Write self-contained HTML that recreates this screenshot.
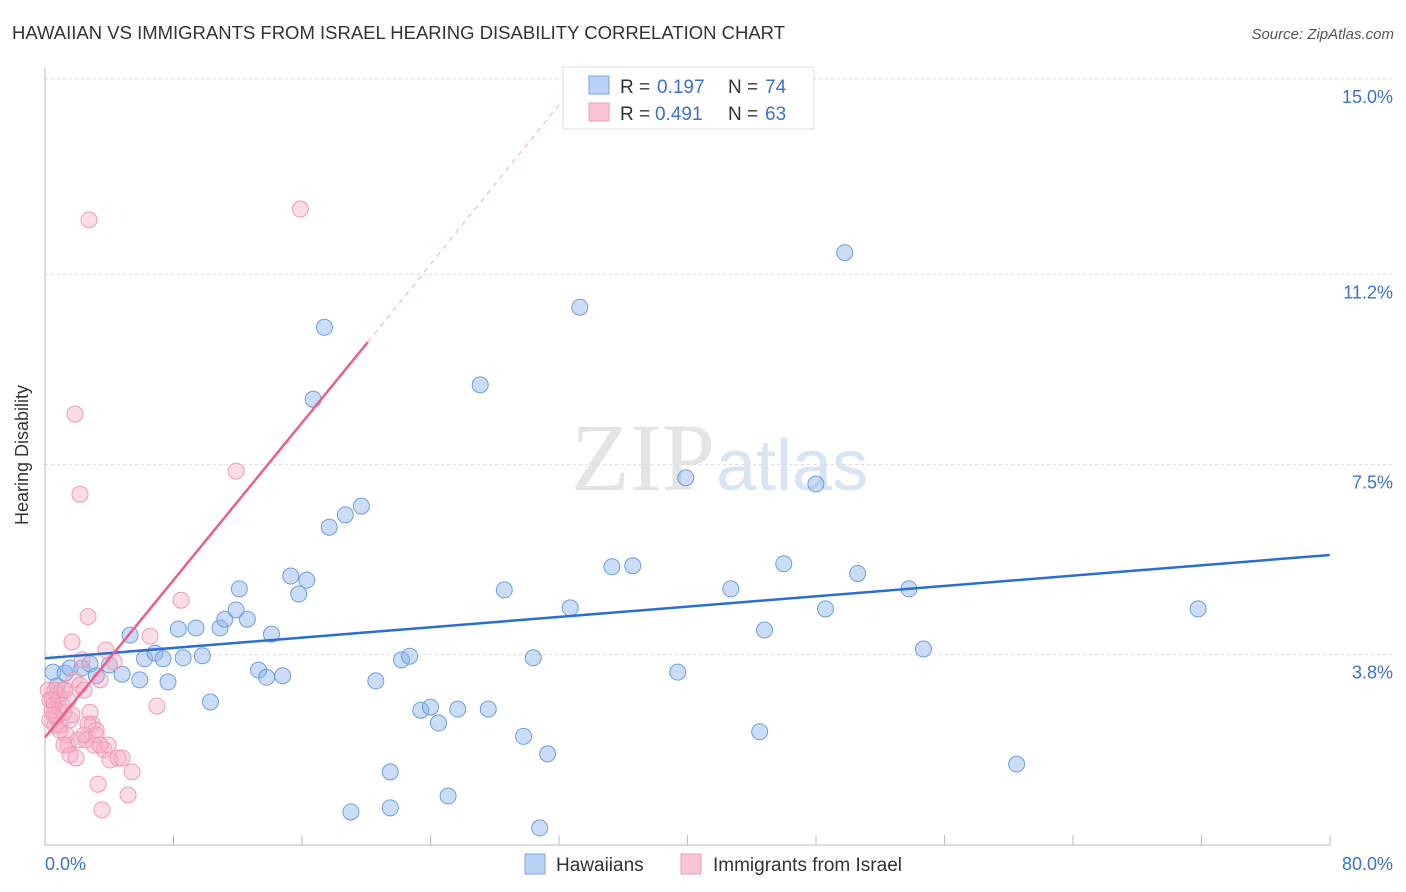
<!DOCTYPE html>
<html><head><meta charset="utf-8"><style>
body{margin:0;background:#fff;font-family:"Liberation Sans",sans-serif}
svg{display:block}
</style></head><body>
<svg width="1406" height="892">
<text x="12" y="39" font-size="18.5" fill="#333">HAWAIIAN VS IMMIGRANTS FROM ISRAEL HEARING DISABILITY CORRELATION CHART</text>
<text x="1394" y="39" font-size="15" fill="#555" font-style="italic" text-anchor="end">Source: ZipAtlas.com</text>
<text x="715" y="490" font-size="96" fill="#e4e4e4" text-anchor="end" font-family="Liberation Serif,serif">ZIP</text>
<text x="716" y="490" font-size="72" fill="#d6e4f4">atlas</text>
<g id="grid"></g>
<line x1="45" y1="68" x2="45" y2="845" stroke="#bbb"/>
<line x1="45" y1="845" x2="1330" y2="845" stroke="#bbb"/>
<text x="28" y="455" font-size="18" fill="#333" text-anchor="middle" transform="rotate(-90 28 455)">Hearing Disability</text>
<text x="45" y="870" font-size="18" fill="#3a72c8">0.0%</text>
<text x="1393" y="870" font-size="18" fill="#3a72c8" text-anchor="end">80.0%</text>
<g id="marks"></g>
<g>
<rect x="563" y="67" width="251" height="62" fill="#fff" stroke="#ddd"/>
<rect x="589" y="76" width="20" height="18" fill="#b7d2f5" stroke="#7aa6e0"/>
<rect x="589" y="103" width="20" height="18" fill="#fbc4d4" stroke="#f09ab4"/>
<text x="620" y="93" font-size="19" fill="#333">R =</text>
<text x="657" y="93" font-size="19" fill="#3a72c8">0.197</text>
<text x="728" y="93" font-size="19" fill="#333">N =</text>
<text x="765" y="93" font-size="19" fill="#3a72c8">74</text>
<text x="620" y="120" font-size="19" fill="#333">R =</text>
<text x="655" y="120" font-size="19" fill="#3a72c8">0.491</text>
<text x="728" y="120" font-size="19" fill="#333">N =</text>
<text x="765" y="120" font-size="19" fill="#3a72c8">63</text>
</g>
<g>
<rect x="525" y="854" width="20" height="20" fill="#b7d2f5" stroke="#7aa6e0"/>
<text x="556" y="871" font-size="19" fill="#333">Hawaiians</text>
<rect x="681" y="854" width="20" height="20" fill="#fbc4d4" stroke="#f09ab4"/>
<text x="713" y="871" font-size="19" fill="#333">Immigrants from Israel</text>
</g>
</svg>
<script>
const yTicks=[15.0,11.2,7.5,3.8];
const xTicks=[0,10,20,30,40,50,60,70,80,90,100];
const blueX=[0.5,0.75,1.25,1.56,2.3,2.8,3.2,4.0,4.8,5.3,5.9,6.2,6.85,7.35,7.66,8.3,8.6,9.4,9.8,10.3,10.9,11.2,11.9,12.1,12.6,13.3,13.8,14.1,14.8,15.3,15.8,16.3,16.7,17.4,17.7,18.7,19.7,19.05,20.6,21.5,21.5,22.2,22.7,23.4,24.0,24.5,25.1,25.7,27.1,27.6,28.6,29.8,30.4,30.8,31.3,32.7,33.3,35.3,36.6,39.4,39.9,42.7,44.5,44.8,46.0,48.0,48.6,49.8,50.6,53.8,54.7,60.5,71.8];
const blueY=[3.46,3.19,3.44,3.54,3.54,3.62,3.39,3.6,3.42,4.18,3.31,3.72,3.83,3.72,3.27,4.30,3.74,4.32,3.78,2.88,4.32,4.49,4.67,5.08,4.49,3.50,3.36,4.20,3.39,5.33,4.98,5.25,8.77,10.17,6.28,6.52,6.69,0.74,3.29,1.52,0.82,3.70,3.77,2.72,2.78,2.47,1.05,2.74,9.05,2.74,5.06,2.21,3.74,0.43,1.87,4.71,10.56,5.51,5.53,3.46,7.24,5.08,2.30,4.28,5.57,7.12,4.69,11.62,5.38,5.08,3.91,1.67,4.69];
const pinkX=[0.2,0.3,0.44,0.56,0.69,0.81,0.93,1.06,1.18,1.31,1.43,1.56,1.68,1.81,1.87,2.06,2.18,2.31,2.43,2.56,2.68,2.74,2.8,2.93,3.06,3.18,3.3,3.43,3.55,3.68,3.8,3.93,4.05,4.3,4.55,4.8,5.17,5.42,6.54,6.97,8.47,11.9,15.9,0.3,0.62,0.93,1.18,1.56,1.93,2.43,0.81,1.06,1.43,1.68,0.62,1.25,0.44,0.56,3.18,3.43,2.18,2.68];
const pinkY=[3.11,2.92,2.72,2.82,2.57,2.92,2.43,3.11,2.68,2.24,2.04,2.53,4.05,3.31,8.48,2.14,6.92,3.7,3.11,2.14,4.54,12.26,2.68,2.45,2.04,2.33,1.28,3.31,0.78,1.95,3.89,2.04,1.75,3.66,1.79,1.79,1.07,1.52,4.16,2.8,4.86,7.37,12.47,2.53,2.43,2.33,2.04,1.85,1.79,2.24,3.02,2.82,2.92,2.63,3.11,3.11,2.92,2.63,2.24,2.04,3.21,2.45];
const blueLine=[[0,3.73],[80,5.74]];
const pinkLine=[[0,2.19],[20.1,9.88]];
const pinkDash=[[20.1,9.88],[33.3,15.0]];
const xs=v=>45+v*16.06, ys=v=>850-v*51.4;
const NS="http://www.w3.org/2000/svg";
const grid=document.getElementById('grid'), marks=document.getElementById('marks');
function mk(t,a,p){const e=document.createElementNS(NS,t);for(const k in a)e.setAttribute(k,a[k]);p.appendChild(e);return e;}
yTicks.forEach(v=>{
 const l=mk('line',{x1:45,x2:1393,y1:ys(v),y2:ys(v),stroke:'#ddd','stroke-dasharray':'3,3'},grid);
 
 
 const t=mk('text',{x:1393,y:ys(v)+24,'font-size':18,fill:'#3a72c8','text-anchor':'end'},grid);
 t.textContent=v.toFixed(1)+'%';
 
 
});
xTicks.forEach(v=>{const x=45+v*12.85;
 const l=mk('line',{x1:x,x2:x,y1:835,y2:845,stroke:'#bbb'},grid);
 
 
});
blueX.forEach((x,i)=>{
 const c=mk('circle',{cx:xs(x),cy:ys(blueY[i]),r:8,fill:'rgba(140,180,235,0.45)',stroke:'#6d9edc','stroke-width':1},marks);
 
 
});
pinkX.forEach((x,i)=>{
 const c=mk('circle',{cx:xs(x),cy:ys(pinkY[i]),r:8,fill:'rgba(248,170,195,0.4)',stroke:'#f09ab4','stroke-width':1},marks);
 
 
});
let l=mk('line',{x1:xs(blueLine[0][0]),y1:ys(blueLine[0][1]),x2:xs(blueLine[1][0]),y2:ys(blueLine[1][1]),stroke:'#2a6fd0','stroke-width':2.5},marks);


l=mk('line',{x1:xs(pinkLine[0][0]),y1:ys(pinkLine[0][1]),x2:xs(pinkLine[1][0]),y2:ys(pinkLine[1][1]),stroke:'#e8608a','stroke-width':2.5},marks);


l=mk('line',{x1:xs(pinkDash[0][0]),y1:ys(pinkDash[0][1]),x2:xs(pinkDash[1][0]),y2:ys(pinkDash[1][1]),stroke:'#f0a8bc','stroke-width':1,'stroke-dasharray':'5,5'},marks);


</script>
</body></html>
